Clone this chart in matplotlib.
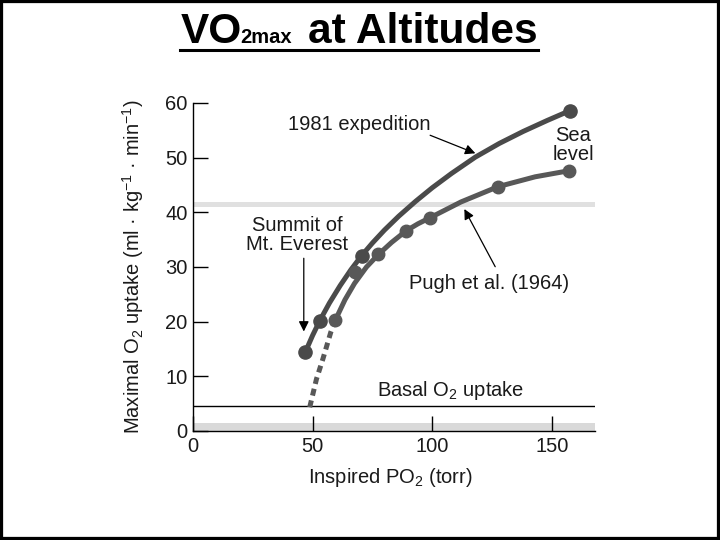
import matplotlib
matplotlib.use('Agg')
import matplotlib.pyplot as plt
from matplotlib.patches import Rectangle
from matplotlib.lines import Line2D

plt.rcParams['font.family'] = ['Liberation Sans', 'DejaVu Sans']
plt.rcParams['mathtext.fontset'] = 'custom'
plt.rcParams['mathtext.rm'] = 'Liberation Sans'
plt.rcParams['mathtext.it'] = 'Liberation Sans:italic'
plt.rcParams['mathtext.default'] = 'regular'

expedition_po2 = [47, 50, 53, 57, 61.5, 66, 70.5, 75, 80, 86, 93, 100, 108,
                  118, 128, 138, 148, 157.5]
expedition_vo2 = [14.5, 17.5, 20.2, 23.4, 26.6, 29.5, 32.1, 34.4, 36.75, 39.3,
                  42.0, 44.5, 47.1, 50.1, 52.6, 54.8, 56.8, 58.6]
expedition_pts_po2 = [47, 53, 70.5, 157.5]
expedition_pts_vo2 = [14.5, 20.2, 32.1, 58.6]

# Pugh et al. (1964)
pugh_po2 = [59.5, 63.5, 67.5, 72.5, 77.5, 83, 89, 94, 99, 112, 127.5, 143, 157]
pugh_vo2 = [20.3, 24.0, 27.0, 30.0, 32.3, 34.5, 36.6, 37.9, 39.0, 41.9, 44.7,
            46.5, 47.6]
pugh_pts_po2 = [59.5, 67.5, 77.5, 89, 99, 127.5, 157]
pugh_pts_vo2 = [20.3, 29.1, 32.3, 36.6, 38.9, 44.7, 47.6]
pugh_extrap_po2 = [59.5, 57.6, 54.3, 51.6, 48.7]
pugh_extrap_vo2 = [20.3, 18.1, 13.2, 9.5, 4.2]

basal_vo2 = 4.5
x_ticks = [0, 50, 100, 150]
y_ticks = [0, 10, 20, 30, 40, 50, 60]

txt = '#1a1a1a'
c_exp = '#4a4a4a'
c_pugh = '#585858'

fig = plt.figure(figsize=(7.2, 5.4), dpi=100)
ax = fig.add_axes([193 / 720, 1 - 431 / 540, 402 / 720, 328 / 540])

# light grey bands that are in the scanned figure
ax.axhspan(0, 1.5, color='#d9d9d9', lw=0, zorder=1)
ax.axhline(41.5, color='#e0e0e0', lw=3.6, zorder=1)
ax.axhline(basal_vo2, color='black', lw=1.0, zorder=2)

ax.plot(expedition_po2, expedition_vo2, color=c_exp, lw=3.6,
        solid_capstyle='round', solid_joinstyle='round', zorder=4)
ax.plot(expedition_pts_po2, expedition_pts_vo2, 'o', color=c_exp, ms=9.5, zorder=5)

ax.plot(pugh_po2, pugh_vo2, color=c_pugh, lw=3.6, solid_capstyle='round',
        solid_joinstyle='round', zorder=3)
ax.plot(pugh_extrap_po2, pugh_extrap_vo2, color=c_pugh, lw=3.6,
        linestyle=(0, (1.4, 1.0)), dash_capstyle='butt', zorder=3)
ax.plot(pugh_pts_po2, pugh_pts_vo2, 'o', color=c_pugh, ms=9, zorder=5)

ax.set_xlim(0, 168)
ax.set_ylim(0, 60)
ax.set_xticks(x_ticks)
ax.set_yticks(y_ticks)
ax.spines['top'].set_visible(False)
ax.spines['right'].set_visible(False)
for s in ['left', 'bottom']:
    ax.spines[s].set_linewidth(1.0)
    ax.spines[s].set_zorder(6)
ax.tick_params(direction='in', length=11, width=1.0, labelsize=14.5,
               labelcolor=txt)
ax.tick_params(axis='x', pad=4)
ax.tick_params(axis='y', pad=4)

ax.set_ylabel('Maximal O$_2$ uptake (ml · kg$^{-1}$ · min$^{-1}$)',
              fontsize=14.5, color=txt, va='center')
ax.yaxis.set_label_coords(-0.149, 0.5)
ax.set_xlabel('Inspired PO$_2$ (torr)', fontsize=14.5, color=txt, va='center')
ax.xaxis.set_label_coords(0.49, -0.143)

# labels and arrows
arrow = dict(arrowstyle='-|>', color='black', lw=0.9, mutation_scale=15,
             shrinkA=0, shrinkB=0)
ax.text(69.4, 56.1, '1981 expedition', fontsize=14.5, color=txt,
        ha='center', va='center')
ax.annotate('', xy=(118, 50.8), xytext=(99.1, 54.1), arrowprops=arrow)

ax.text(158.8, 52.3, 'Sea\nlevel', fontsize=14.5, color=txt,
        ha='center', va='center', linespacing=1.0)

ax.text(43.5, 35.9, 'Summit of\nMt. Everest', fontsize=14.5, color=txt,
        ha='center', va='center', linespacing=1.0)
ax.annotate('', xy=(46.3, 18.2), xytext=(46.3, 31.6), arrowprops=arrow)

ax.text(123.9, 26.9, 'Pugh et al. (1964)', fontsize=14.5, color=txt,
        ha='center', va='center')
ax.annotate('', xy=(113.4, 40.6), xytext=(126.3, 30.05), arrowprops=arrow)

ax.text(107.7, 7.5, 'Basal O$_2$ uptake', fontsize=14.5, color=txt,
        ha='center', va='center')

# title: VO2max at Altitudes, underlined
renderer = fig.canvas.get_renderer()
parts = [('VO', 30.5, 0), ('2max', 14.5, -1), ('at Altitudes', 30.5, 16)]
base_y = 1 - 43.3 / 540
texts = []
for s, size, gap in parts:
    t = fig.text(0, base_y, s, fontsize=size, fontweight='bold',
                 ha='left', va='baseline', color='black')
    texts.append(t)
widths = [t.get_window_extent(renderer).width for t in texts]
total = sum(widths) + sum(p[2] for p in parts)
left = 359 - total / 2
cur = left
for t, w, p in zip(texts, widths, parts):
    cur += p[2]
    t.set_x(cur / 720)
    cur += w
fig.add_artist(Line2D([left / 720, cur / 720], [1 - 49.7 / 540] * 2,
                      color='black', lw=2.2, transform=fig.transFigure))

# frame round the slide
fig.add_artist(Rectangle((0, 0), 1, 1, transform=fig.transFigure, fill=False,
                         edgecolor='black', lw=4.5, clip_on=False))

fig.savefig('out.png', dpi=100)
